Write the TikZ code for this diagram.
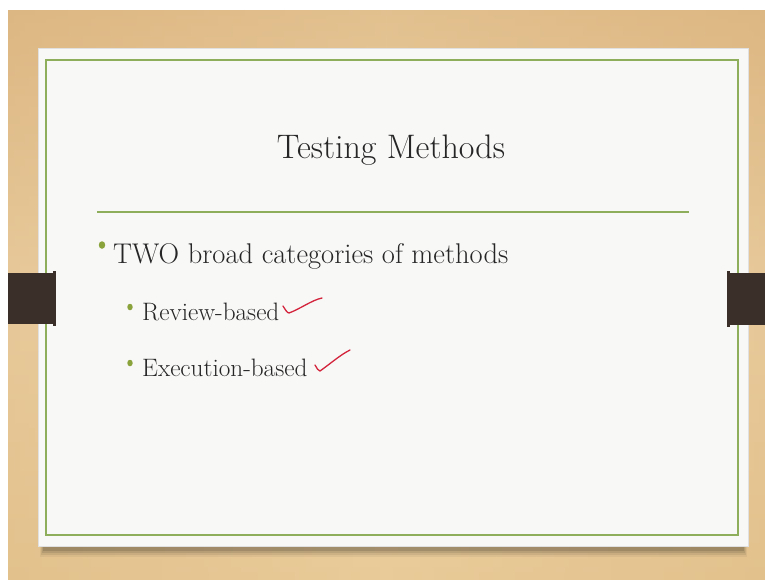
\documentclass[tikz,border=0pt]{standalone}
\usetikzlibrary{shadows}
\definecolor{woodA}{HTML}{DDB783}
\definecolor{woodB}{HTML}{EDD3A6}
\definecolor{woodC}{HTML}{E6C792}
\definecolor{card}{HTML}{F8F8F7}
\definecolor{frame}{HTML}{8FAE5B}
\definecolor{tab}{HTML}{3A3029}
\definecolor{ink}{HTML}{262626}
\definecolor{dot}{HTML}{8AA33B}
\definecolor{pen}{HTML}{D3243C}
\tikzset{
  bulletdot/.style={ellipse,fill=dot,inner sep=0pt,minimum width=6.5pt,minimum height=7.5pt},
  subdot/.style={ellipse,fill=dot,inner sep=0pt,minimum width=5.5pt,minimum height=6.5pt},
  bodytext/.style={anchor=base west,inner sep=0pt,text=ink},
  tick/.style={draw=pen,line width=1.3pt,line cap=round,line join=round},
}
\usetikzlibrary{shapes.geometric}
\begin{document}
\begin{tikzpicture}[x=1pt,y=-1pt]
\useasboundingbox (0,0) rectangle (765,579);
\fill[white] (0,0) rectangle (765,579);
% wooden desk
\shade[top color=woodA,bottom color=woodB] (8,10) rectangle (765,290);
\shade[top color=woodB,bottom color=woodC] (8,290) rectangle (765,579);
\shade[left color=woodA,right color=woodB,opacity=0.35] (8,10) rectangle (386,579);
\shade[left color=woodB,right color=woodA,opacity=0.35] (386,10) rectangle (765,579);
% soft shadow under the card
\foreach \d/\o in {9/0.05,7/0.07,5/0.09,3/0.12}
  \fill[black,opacity=\o] (44-\d/2,60) rectangle (742+\d/2,548+\d);
% paper card
\fill[card] (38,48) rectangle (748,546);
\draw[black!12,line width=0.6pt] (38,48) rectangle (748,546);
\draw[frame,line width=2pt] (46,60) rectangle (738,535);
% binder clips on both sides
\fill[tab] (8,273) rectangle (55,324);
\fill[tab] (53,271) rectangle (56,326);
\fill[tab] (729,273) rectangle (765,325);
\fill[tab] (727,271) rectangle (730,327);
% title and rule
\node[text=ink,font=\fontsize{34}{37}\selectfont] (title) at (391,150) {Testing Methods};
\draw[frame,line width=1.6pt] (97,212) -- (689,212);
% bullets
\node[bulletdot] (b1) at (102,245) {};
\node[bodytext,font=\fontsize{28.5}{31}\selectfont] (t1) at (113,263) {TWO broad categories of methods};
\node[subdot] (b2) at (130,307) {};
\node[bodytext,font=\fontsize{25.2}{28}\selectfont] (t2) at (142,320) {Review-based};
\node[subdot] (b3) at (130,363) {};
\node[bodytext,font=\fontsize{25.2}{28}\selectfont] (t3) at (142,376) {Execution-based};
% hand-drawn ticks
\draw[tick] (283,306) .. controls (285,309) and (287,313) .. (289,313)
  .. controls (300,309) and (312,300) .. (322,298);
\draw[tick] (315,365) .. controls (317,368) and (318,371) .. (320,371)
  .. controls (330,364) and (340,355) .. (350,350);
\end{tikzpicture}
\end{document}
